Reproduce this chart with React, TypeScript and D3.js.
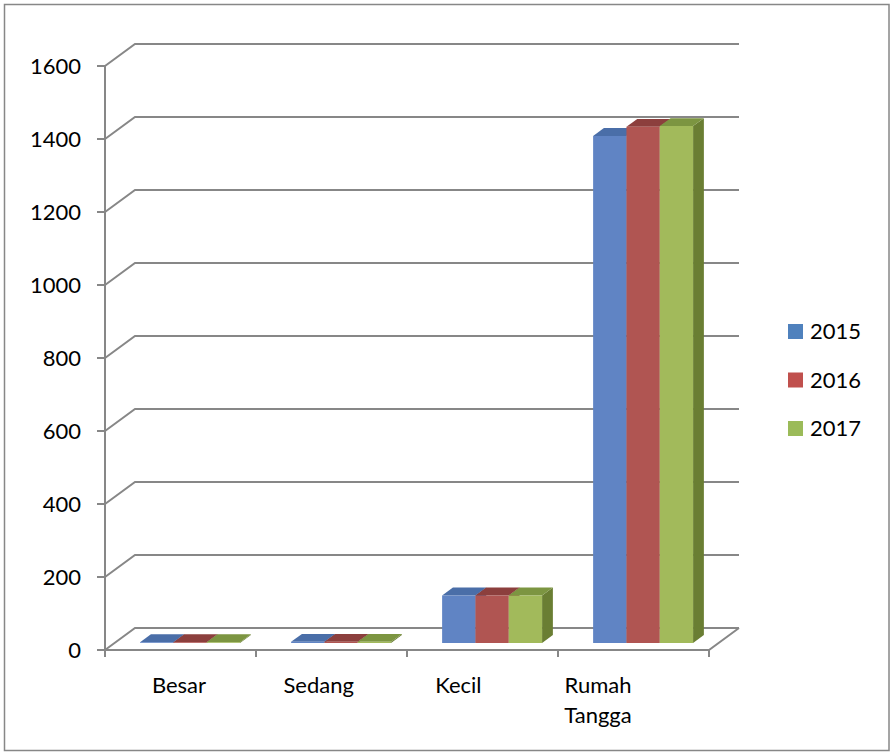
import React, { useEffect, useRef } from 'react';
import * as d3 from 'd3';

const categories = ['Besar', 'Sedang', 'Kecil', 'Rumah Tangga'];
const seriesNames = ['2015', '2016', '2017'];
const values2015 = [2, 3, 130, 1389];
const values2016 = [2, 3, 130, 1414];
const values2017 = [2, 3, 130, 1416];
const yTicks = [0, 200, 400, 600, 800, 1000, 1200, 1400, 1600];

const allValues = [values2015, values2016, values2017];
// front / top / side shading of each series, plus the flat legend colour
const shades = [
    { front: '#6084c4', top: '#4a6ea8', side: '#3f5f92', legend: '#4f81bd' },
    { front: '#b05552', top: '#8c3f3d', side: '#7a3533', legend: '#c0504d' },
    { front: '#a2ba5b', top: '#7c9541', side: '#6a7e33', legend: '#9bbb59' },
];

export default function App() {
    const ref = useRef<SVGSVGElement>(null);

    useEffect(() => {
        const width = 893, height = 755;
        const depthX = 30, depthY = -22;           // offset of the back wall
        const barD0 = 0.32, barD1 = 0.68;           // bar depth inside the floor

        const svg = d3.select(ref.current);
        svg.selectAll('*').remove();
        svg.attr('width', width).attr('height', height);

        const x = d3.scaleBand().domain(categories).range([105, 709])
            .paddingInner(0.338).paddingOuter(0.169);
        const xs = d3.scaleBand().domain(seriesNames).range([0, x.bandwidth()]);
        const y = d3.scaleLinear().domain([0, 1600]).range([650, 66]);
        // category labels drift left a bit in the original (perspective)
        const xl = d3.scalePoint().domain(categories).range([179, 598]);

        const P = (px: number, v: number, d: number) => [px + d * depthX, y(v) + d * depthY];
        const poly = (pts: number[][]) => 'M' + pts.map(p => p.join(',')).join('L') + 'Z';
        const grey = '#878787';

        // outer frame
        svg.append('rect').attr('x', 4.5).attr('y', 4.5).attr('width', 884.5).attr('height', 746)
            .attr('fill', 'white').attr('stroke', grey).attr('stroke-width', 1.5);

        const [x0, x1] = x.range();
        const grid = svg.append('g').attr('stroke', grey).attr('stroke-width', 2).attr('fill', 'none');
        yTicks.forEach(t => {
            const a = P(x0, t, 0), b = P(x0, t, 1), c = P(x1, t, 1);
            grid.append('path').attr('d', `M${a}L${b}L${c}`);
        });
        // floor
        const f = [P(x0, 0, 0), P(x1, 0, 0), P(x1, 0, 1)];
        grid.append('path').attr('d', `M${f[0]}L${f[1]}L${f[2]}`);
        // y axis line and ticks
        grid.append('line').attr('x1', x0).attr('x2', x0).attr('y1', y(1600)).attr('y2', y(0) + 7);
        yTicks.forEach(t => {
            grid.append('line').attr('x1', x0 - 8).attr('x2', x0).attr('y1', y(t)).attr('y2', y(t));
        });
        const bounds = [x0, ...categories.map(c => (x(c) as number) + x.bandwidth() + x.step() * 0.169)];
        bounds.forEach(b => {
            grid.append('line').attr('x1', b).attr('x2', b).attr('y1', y(0)).attr('y2', y(0) + 7);
        });

        // bars
        const bars = svg.append('g');
        categories.forEach((c, ci) => {
            seriesNames.forEach((s, si) => {
                const v = allValues[si][ci];
                const l = (x(c) as number) + (xs(s) as number);
                const r = l + xs.bandwidth();
                const sh = shades[si];
                bars.append('path').attr('fill', sh.side)
                    .attr('d', poly([P(r, 0, barD0), P(r, 0, barD1), P(r, v, barD1), P(r, v, barD0)]));
                bars.append('path').attr('fill', sh.top)
                    .attr('d', poly([P(l, v, barD0), P(r, v, barD0), P(r, v, barD1), P(l, v, barD1)]));
                bars.append('path').attr('fill', sh.front)
                    .attr('d', poly([P(l, 0, barD0), P(r, 0, barD0), P(r, v, barD0), P(l, v, barD0)]));
            });
        });

        const font = 'Lato, "Open Sans", sans-serif';
        // y tick labels
        svg.append('g').attr('font-family', font).attr('font-size', 22).attr('text-anchor', 'end')
            .selectAll('text').data(yTicks).enter().append('text')
            .attr('x', 81).attr('y', d => y(d)).attr('dy', '0.35em').text(d => d);

        // category labels
        const cl = svg.append('g').attr('font-family', font).attr('font-size', 22).attr('text-anchor', 'middle');
        categories.forEach(c => {
            const words = c.split(' ');
            words.forEach((w, i) => {
                cl.append('text').attr('x', xl(c) as number).attr('y', 693 + i * 30).text(w);
            });
        });

        // legend
        const lg = svg.append('g').attr('font-family', font).attr('font-size', 22);
        seriesNames.forEach((s, i) => {
            const g = lg.append('g').attr('transform', `translate(788,${324 + i * 48.5})`);
            g.append('rect').attr('width', 15).attr('height', 15).attr('fill', shades[i].legend);
            g.append('text').attr('x', 22).attr('y', 7.5).attr('dy', '0.35em').text(s);
        });
    }, []);

    return (
        <div style={{ position: 'absolute', left: 0, top: 0 }}>
            <svg ref={ref} style={{ display: 'block' }} />
        </div>
    );
}
